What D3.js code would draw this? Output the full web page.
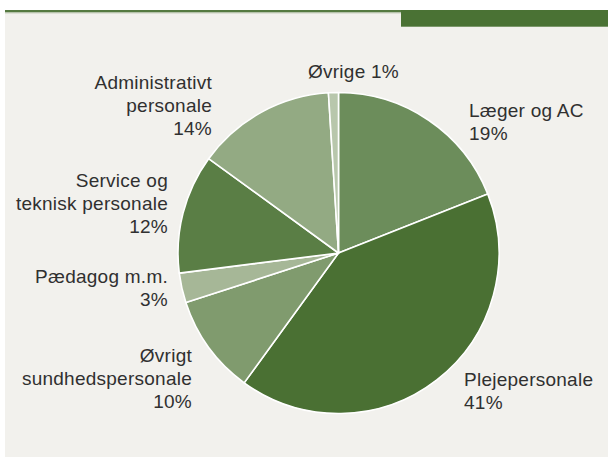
<!DOCTYPE html>
<html>
<head>
<meta charset="utf-8">
<script src="https://cdn.jsdelivr.net/npm/d3@7"></script>
<style>
  html, body { margin: 0; padding: 0; background: #ffffff; }
  svg { display: block; }
  text { font-family: "Liberation Sans", Arial, sans-serif; font-size: 19px; letter-spacing: 0.25px; fill: #303030; }
</style>
</head>
<body>
<svg id="chart" width="608" height="457"></svg>
<script>
// Personalesammensætning, andel i procent
const categories = [
  "Læger og AC",
  "Plejepersonale",
  "Øvrigt sundhedspersonale",
  "Pædagog m.m.",
  "Service og teknisk personale",
  "Administrativt personale",
  "Øvrige"
];
const shares = [19, 41, 10, 3, 12, 14, 1];
const sliceColors = ["#6c8d5b", "#4a7033", "#809b6e", "#a6b797", "#5a7e45", "#93aa83", "#b8c7ac"];

// Label text split into lines (the share is appended as its own line or suffix)
const labelLines = [
  ["Læger og AC"],
  ["Plejepersonale"],
  ["Øvrigt", "sundhedspersonale"],
  ["Pædagog m.m."],
  ["Service og", "teknisk personale"],
  ["Administrativt", "personale"],
  ["Øvrige"]
];

// Label placement: anchor point of the first baseline, alignment, inline share
const labelLayout = [
  { x: 469, y: 117, anchor: "start", inline: false },
  { x: 464, y: 386, anchor: "start", inline: false },
  { x: 192, y: 362, anchor: "end",   inline: false },
  { x: 168, y: 283, anchor: "end",   inline: false },
  { x: 168, y: 187, anchor: "end",   inline: false },
  { x: 212, y: 89,  anchor: "end",   inline: false },
  { x: 308, y: 78,  anchor: "start", inline: true }
];
const lineHeight = 22.8;

const svg = d3.select("#chart");
const W = 608, H = 457;

// Panel background
svg.append("rect").attr("x", 5).attr("y", 10).attr("width", W - 5).attr("height", H - 10)
  .attr("fill", "#f2f1ed");

// Header rule and accent bar
svg.append("rect").attr("x", 5).attr("y", 10).attr("width", 396).attr("height", 2.5)
  .attr("fill", "#557a41");
svg.append("rect").attr("x", 5).attr("y", 12.5).attr("width", 396).attr("height", 1)
  .attr("fill", "#c9d1c0");
svg.append("rect").attr("x", 401).attr("y", 10).attr("width", W - 401).attr("height", 16.7)
  .attr("fill", "#4a7234");

// Pie
const cx = 338.5, cy = 253, radius = 160.5;
const pie = d3.pie().sort(null).value(d => d.value);
const arc = d3.arc().innerRadius(0).outerRadius(radius);
const data = categories.map((c, i) => ({ name: c, value: shares[i], color: sliceColors[i] }));

const g = svg.append("g").attr("transform", `translate(${cx},${cy})`);
g.selectAll("path")
  .data(pie(data))
  .join("path")
  .attr("d", arc)
  .attr("fill", d => d.data.color)
  .attr("stroke", "#ffffff")
  .attr("stroke-width", 1.6)
  .attr("stroke-linejoin", "round");

// Labels
const labels = svg.append("g");
data.forEach((d, i) => {
  const lay = labelLayout[i];
  const lines = lay.inline
    ? [labelLines[i].join(" ") + " " + d.value + "%"]
    : labelLines[i].concat([d.value + "%"]);
  const t = labels.append("text")
    .attr("x", lay.x).attr("y", lay.y)
    .attr("text-anchor", lay.anchor);
  lines.forEach((ln, k) => {
    t.append("tspan").attr("x", lay.x).attr("y", lay.y + k * lineHeight).text(ln);
  });
});
</script>
</body>
</html>
